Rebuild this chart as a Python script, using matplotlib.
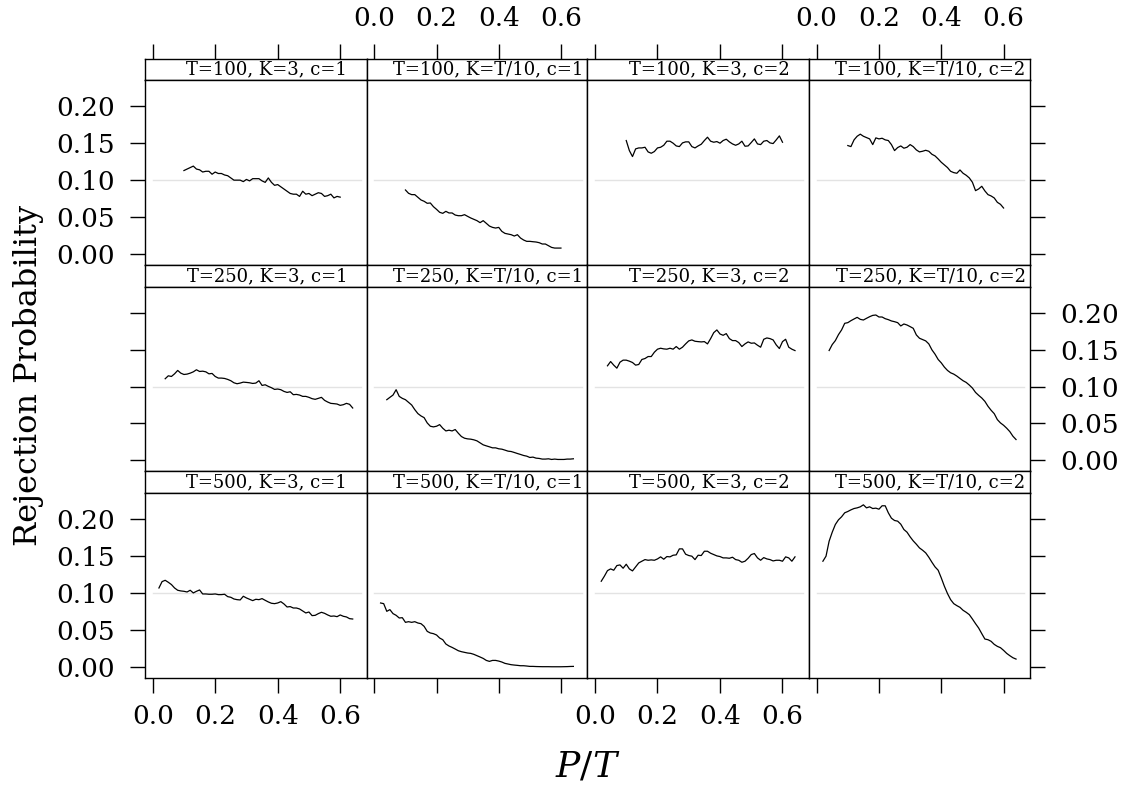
import matplotlib
matplotlib.use('Agg')
import matplotlib.pyplot as plt

plt.rcParams['font.family'] = ['DejaVu Serif']
plt.rcParams['mathtext.fontset'] = 'dejavuserif'

# P/T grids for each sample size
x100 = [0.10, 0.11, 0.12, 0.13, 0.14, 0.15, 0.16, 0.17, 0.18, 0.19,
        0.20, 0.21, 0.22, 0.23, 0.24, 0.25, 0.26, 0.27, 0.28, 0.29,
        0.30, 0.31, 0.32, 0.33, 0.34, 0.35, 0.36, 0.37, 0.38, 0.39,
        0.40, 0.41, 0.42, 0.43, 0.44, 0.45, 0.46, 0.47, 0.48, 0.49,
        0.50, 0.51, 0.52, 0.53, 0.54, 0.55, 0.56, 0.57, 0.58, 0.59, 0.60]
x250 = [0.04, 0.05, 0.06, 0.07, 0.08, 0.09] + x100 + [0.61, 0.62, 0.63, 0.64]
x500 = [0.02, 0.03] + x250

# rejection probabilities
t100_k3_c1 = [0.113, 0.115, 0.117, 0.119, 0.115, 0.114, 0.111, 0.112, 0.112, 0.108,
              0.111, 0.109, 0.109, 0.107, 0.106, 0.103, 0.100, 0.100, 0.100, 0.098,
              0.101, 0.099, 0.102, 0.102, 0.102, 0.099, 0.097, 0.103, 0.097, 0.093,
              0.094, 0.091, 0.088, 0.085, 0.082, 0.081, 0.081, 0.078, 0.085, 0.081,
              0.082, 0.079, 0.081, 0.083, 0.082, 0.078, 0.079, 0.081, 0.076, 0.078, 0.077]
t100_kt_c1 = [0.0867, 0.0822, 0.0804, 0.0804, 0.0768, 0.0732, 0.0714, 0.0687, 0.0691, 0.0641,
              0.0605, 0.0565, 0.0551, 0.0578, 0.0556, 0.0556, 0.0528, 0.0519, 0.0519, 0.0533,
              0.0510, 0.0488, 0.0470, 0.0452, 0.0425, 0.0452, 0.0416, 0.0379, 0.0361, 0.0352,
              0.0361, 0.0307, 0.0280, 0.0271, 0.0262, 0.0244, 0.0262, 0.0217, 0.0190, 0.0172,
              0.0172, 0.0167, 0.0163, 0.0154, 0.0136, 0.0136, 0.0113, 0.0090, 0.0081, 0.0081, 0.0081]
t100_k3_c2 = [0.1536, 0.1400, 0.1319, 0.1423, 0.1436, 0.1436, 0.1445, 0.1382, 0.1364, 0.1387,
              0.1436, 0.1445, 0.1472, 0.1527, 0.1527, 0.1500, 0.1463, 0.1454, 0.1504, 0.1518,
              0.1518, 0.1454, 0.1436, 0.1463, 0.1486, 0.1536, 0.1581, 0.1527, 0.1513, 0.1522,
              0.1500, 0.1536, 0.1554, 0.1518, 0.1490, 0.1472, 0.1490, 0.1527, 0.1459, 0.1463,
              0.1509, 0.1558, 0.1490, 0.1481, 0.1527, 0.1536, 0.1504, 0.1495, 0.1545, 0.1599, 0.1513]
t100_kt_c2 = [0.1468, 0.1454, 0.1545, 0.1594, 0.1622, 0.1594, 0.1576, 0.1558, 0.1481, 0.1572,
              0.1558, 0.1567, 0.1545, 0.1536, 0.1481, 0.1400, 0.1441, 0.1463, 0.1432, 0.1445,
              0.1481, 0.1454, 0.1409, 0.1382, 0.1391, 0.1404, 0.1391, 0.1350, 0.1328, 0.1287,
              0.1242, 0.1206, 0.1170, 0.1120, 0.1102, 0.1093, 0.1138, 0.1093, 0.1066, 0.1030,
              0.0971, 0.0858, 0.0881, 0.0917, 0.0854, 0.0804, 0.0786, 0.0759, 0.0700, 0.0673, 0.0623]

t250_k3_c1 = [0.1107, 0.1147, 0.1138, 0.1174, 0.1220, 0.1183,
              0.1165, 0.1170, 0.1183, 0.1201, 0.1229, 0.1206, 0.1210, 0.1201, 0.1174, 0.1179,
              0.1138, 0.1116, 0.1116, 0.1111, 0.1098, 0.1080, 0.1052, 0.1039, 0.1048, 0.1061,
              0.1057, 0.1052, 0.1043, 0.1048, 0.1080, 0.1016, 0.1025, 0.1003, 0.0985, 0.0962,
              0.0967, 0.0958, 0.0935, 0.0921, 0.0930, 0.0890, 0.0894, 0.0885, 0.0867, 0.0867,
              0.0854, 0.0836, 0.0827, 0.0840, 0.0854, 0.0813, 0.0790, 0.0772, 0.0768, 0.0763,
              0.0745, 0.0754, 0.0772, 0.0759, 0.0709]
t250_kt_c1 = [0.0822, 0.0854, 0.0885, 0.0958, 0.0867, 0.0840,
              0.0822, 0.0786, 0.0750, 0.0687, 0.0633, 0.0601, 0.0578, 0.0506, 0.0461, 0.0452,
              0.0461, 0.0483, 0.0434, 0.0397, 0.0407, 0.0397, 0.0416, 0.0366, 0.0321, 0.0298,
              0.0289, 0.0285, 0.0276, 0.0262, 0.0235, 0.0208, 0.0194, 0.0181, 0.0167, 0.0167,
              0.0154, 0.0149, 0.0136, 0.0122, 0.0117, 0.0104, 0.0090, 0.0077, 0.0063, 0.0054,
              0.0036, 0.0041, 0.0027, 0.0023, 0.0014, 0.0014, 0.0018, 0.0009, 0.0014, 0.0009,
              0.0009, 0.0009, 0.0014, 0.0014, 0.0018]
t250_k3_c2 = [0.1283, 0.1341, 0.1292, 0.1251, 0.1332, 0.1360,
              0.1360, 0.1346, 0.1328, 0.1292, 0.1301, 0.1369, 0.1382, 0.1409, 0.1409, 0.1468,
              0.1509, 0.1522, 0.1513, 0.1509, 0.1522, 0.1509, 0.1545, 0.1509, 0.1536, 0.1581,
              0.1622, 0.1635, 0.1617, 0.1612, 0.1608, 0.1612, 0.1581, 0.1653, 0.1734, 0.1771,
              0.1716, 0.1698, 0.1721, 0.1653, 0.1626, 0.1626, 0.1599, 0.1545, 0.1581, 0.1608,
              0.1590, 0.1594, 0.1563, 0.1536, 0.1644, 0.1662, 0.1653, 0.1635, 0.1567, 0.1518,
              0.1612, 0.1644, 0.1536, 0.1509, 0.1490]
t250_kt_c2 = [0.1491, 0.1572, 0.1626, 0.1707, 0.1771, 0.1861,
              0.1870, 0.1897, 0.1920, 0.1942, 0.1915, 0.1906, 0.1929, 0.1951, 0.1969, 0.1974,
              0.1947, 0.1947, 0.1924, 0.1911, 0.1893, 0.1883, 0.1870, 0.1825, 0.1852, 0.1838,
              0.1816, 0.1793, 0.1703, 0.1658, 0.1640, 0.1622, 0.1581, 0.1500, 0.1441, 0.1369,
              0.1323, 0.1265, 0.1220, 0.1188, 0.1170, 0.1143, 0.1111, 0.1080, 0.1057, 0.1021,
              0.0980, 0.0921, 0.0881, 0.0845, 0.0799, 0.0732, 0.0678, 0.0632, 0.0551, 0.0506,
              0.0474, 0.0434, 0.0388, 0.0325, 0.0280]

t500_k3_c1 = [0.1070, 0.1156, 0.1174, 0.1147, 0.1116, 0.1070, 0.1039, 0.1030,
              0.1025, 0.1016, 0.1039, 0.1003, 0.1025, 0.1043, 0.0989, 0.0989, 0.0985, 0.0985,
              0.0989, 0.0980, 0.0980, 0.0985, 0.0953, 0.0944, 0.0921, 0.0912, 0.0908, 0.0958,
              0.0935, 0.0917, 0.0899, 0.0917, 0.0912, 0.0926, 0.0903, 0.0881, 0.0863, 0.0858,
              0.0867, 0.0885, 0.0854, 0.0813, 0.0818, 0.0799, 0.0799, 0.0786, 0.0759, 0.0732,
              0.0745, 0.0696, 0.0700, 0.0723, 0.0741, 0.0727, 0.0705, 0.0687, 0.0691, 0.0682,
              0.0705, 0.0687, 0.0678, 0.0655, 0.0650]
t500_kt_c1 = [0.0867, 0.0858, 0.0754, 0.0777, 0.0723, 0.0700, 0.0664, 0.0668,
              0.0605, 0.0614, 0.0605, 0.0614, 0.0596, 0.0587, 0.0551, 0.0483, 0.0461, 0.0452,
              0.0434, 0.0393, 0.0370, 0.0312, 0.0285, 0.0266, 0.0244, 0.0221, 0.0208, 0.0199,
              0.0190, 0.0185, 0.0172, 0.0154, 0.0136, 0.0117, 0.0090, 0.0077, 0.0090, 0.0090,
              0.0081, 0.0068, 0.0050, 0.0041, 0.0032, 0.0027, 0.0023, 0.0018, 0.0018, 0.0014,
              0.0009, 0.0009, 0.0007, 0.0006, 0.0005, 0.0005, 0.0005, 0.0004, 0.0004, 0.0004,
              0.0004, 0.0005, 0.0006, 0.0008, 0.0009]
t500_k3_c2 = [0.1161, 0.1229, 0.1305, 0.1328, 0.1310, 0.1373, 0.1382, 0.1337,
              0.1391, 0.1328, 0.1301, 0.1355, 0.1409, 0.1432, 0.1454, 0.1445, 0.1450, 0.1445,
              0.1463, 0.1491, 0.1459, 0.1495, 0.1491, 0.1513, 0.1518, 0.1599, 0.1599, 0.1527,
              0.1509, 0.1500, 0.1454, 0.1513, 0.1509, 0.1567, 0.1567, 0.1540, 0.1522, 0.1504,
              0.1495, 0.1477, 0.1477, 0.1472, 0.1486, 0.1454, 0.1445, 0.1418, 0.1432, 0.1472,
              0.1522, 0.1536, 0.1477, 0.1445, 0.1481, 0.1463, 0.1454, 0.1436, 0.1445, 0.1445,
              0.1432, 0.1491, 0.1477, 0.1432, 0.1491]
t500_kt_c2 = [0.1432, 0.1500, 0.1703, 0.1825, 0.1929, 0.1992, 0.2033, 0.2087,
              0.2105, 0.2127, 0.2145, 0.2154, 0.2168, 0.2195, 0.2154, 0.2168, 0.2145, 0.2150,
              0.2136, 0.2182, 0.2182, 0.2087, 0.2014, 0.1983, 0.1974, 0.1933, 0.1861, 0.1825,
              0.1762, 0.1707, 0.1662, 0.1612, 0.1581, 0.1545, 0.1486, 0.1418, 0.1355, 0.1310,
              0.1206, 0.1093, 0.0994, 0.0912, 0.0858, 0.0831, 0.0808, 0.0768, 0.0741, 0.0709,
              0.0650, 0.0587, 0.0528, 0.0452, 0.0379, 0.0370, 0.0348, 0.0307, 0.0280, 0.0262,
              0.0226, 0.0185, 0.0154, 0.0126, 0.0108]

panels = [
    [("T=100, K=3, c=1", x100, t100_k3_c1), ("T=100, K=T/10, c=1", x100, t100_kt_c1),
     ("T=100, K=3, c=2", x100, t100_k3_c2), ("T=100, K=T/10, c=2", x100, t100_kt_c2)],
    [("T=250, K=3, c=1", x250, t250_k3_c1), ("T=250, K=T/10, c=1", x250, t250_kt_c1),
     ("T=250, K=3, c=2", x250, t250_k3_c2), ("T=250, K=T/10, c=2", x250, t250_kt_c2)],
    [("T=500, K=3, c=1", x500, t500_k3_c1), ("T=500, K=T/10, c=1", x500, t500_kt_c1),
     ("T=500, K=3, c=2", x500, t500_k3_c2), ("T=500, K=T/10, c=2", x500, t500_kt_c2)],
]

ref_level = 0.10
ref_span = [0.0, 0.667]
xticks = [0.0, 0.2, 0.4, 0.6]
yticks = [0.00, 0.05, 0.10, 0.15, 0.20]

W, H = 1124, 788
fig = plt.figure(figsize=(W / 100, H / 100), dpi=100)

col_edges = [145, 366.7, 587.3, 809, 1030]
strip_rows = [(59, 80), (265, 287), (471, 493)]
body_rows = [(80, 265), (287, 471), (493, 678)]
xlim = (-0.0246, 0.6848)
ylim = (-0.0148, 0.2355)

TICK = dict(direction='out', length=10.8, width=1.0, colors='black', labelsize=19)


def box(l, t, r, b):
    return [l / W, 1 - b / H, (r - l) / W, (b - t) / H]


for i in range(3):
    for j in range(4):
        label, xs, ys = panels[i][j]
        l, r = col_edges[j], col_edges[j + 1]

        # strip
        st, sb = strip_rows[i]
        sax = fig.add_axes(box(l, st, r, sb))
        sax.set_xlim(xlim)
        sax.set_ylim(0, 1)
        sax.set_yticks([])
        for s in sax.spines.values():
            s.set_linewidth(1.0)
        sax.text(0.5 + 11 / (r - l), 0.5, label, transform=sax.transAxes, fontsize=13,
                 ha='center', va='center')
        if i == 0:
            sax.set_xticks(xticks)
            sax.xaxis.set_ticks_position('top')
            sax.tick_params(axis='x', top=True, bottom=False, labeltop=(j % 2 == 1),
                            labelbottom=False, pad=9, **TICK)
            sax.set_xticklabels([f"{v:.1f}" for v in xticks])
        else:
            sax.set_xticks([])

        # panel body
        bt, bb = body_rows[i]
        ax = fig.add_axes(box(l, bt, r, bb))
        ax.plot(ref_span, [ref_level, ref_level], color='#e3e3e3', lw=1.0, zorder=1)
        ax.plot(xs, ys, color='black', lw=0.9, zorder=2)
        ax.set_xlim(xlim)
        ax.set_ylim(ylim)
        for s in ax.spines.values():
            s.set_linewidth(1.0)

        if i == 2:
            ax.set_xticks(xticks)
            ax.set_xticklabels([f"{v:.1f}" for v in xticks])
            ax.tick_params(axis='x', bottom=True, labelbottom=(j % 2 == 0), pad=8, **TICK)
        else:
            ax.set_xticks([])

        ax.set_yticks(yticks)
        ax.set_yticklabels([f"{v:.2f}" for v in yticks])
        ax.tick_params(axis='y', left=(j == 0), right=(j == 3),
                       labelleft=(j == 0 and i != 1), labelright=(j == 3 and i == 1),
                       pad=11, **TICK)
        if j not in (0, 3):
            ax.tick_params(axis='y', left=False, right=False)

fig.text(29 / W, 1 - 375 / H, 'Rejection Probability', rotation=90,
         fontsize=23, ha='center', va='center')
fig.text(588 / W, 1 - 766 / H, r'$P/T$', fontsize=26, ha='center', va='center')

fig.savefig('out.png', dpi=100)
